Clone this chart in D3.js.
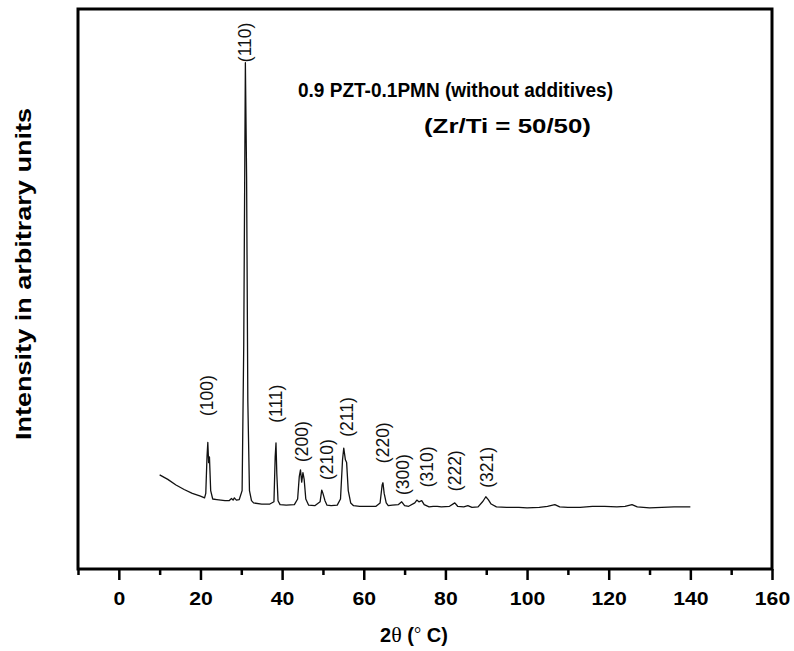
<!DOCTYPE html>
<html><head><meta charset="utf-8">
<script src="https://cdn.jsdelivr.net/npm/d3@7"></script>
<style>body{margin:0;background:#fff}</style>
</head><body>
<svg id="c" width="794" height="651"></svg>
<script>
// XRD pattern: [2θ (deg), intensity (a.u.)]
const twoTheta = [10,12,14,16,18,20,21,21.3,21.6,21.8,22.0,22.2,22.5,23,24,25,26,27,27.6,28,28.3,28.8,29.5,30.2,30.6,31.0,31.3,31.6,32,32.5,33,35,37,38,38.3,38.5,38.7,39.0,39.5,41,43,43.8,44.2,44.5,44.8,45.1,45.4,45.8,46.5,48,49.3,49.7,50.0,50.5,51,52,53.5,54.3,54.8,55.1,55.5,55.8,56.2,56.8,57.5,59,61,63,64.0,64.5,64.7,65.0,65.5,66,67,68.5,69.3,70,71,72.5,73.0,73.5,74.2,74.8,76,77,78,79,81,82.3,83,84.5,85.5,86.5,88,89.2,89.9,90.5,91.2,92.5,95,98,100,103,105,106.8,108,110,113,116,119,122,124,125.7,127,130,133,136,140];
const intensity = [168,160,150,142,135,130,127,135,200,226,190,200,140,125,124,123,122,122,126,123,127,123,124,140,400,904,700,300,140,122,118,116,116,120,200,225,170,122,115,114,115,125,165,177,155,172,160,125,114,113,120,141,135,122,114,113,114,125,195,216,195,190,140,118,113,112,112,112,118,150,154,135,118,113,114,115,120,113,112,118,123,120,122,115,111,112,112,111,112,118,112,111,113,110,111,121,129,124,116,111,110,110,109,110,112,115,111,110,110,112,112,111,112,115,111,109,110,111,111];

// Peak labels (Miller indices), the 2θ where they sit, and the intensity level of the label's lower end
const peakLabels = ["(100)","(110)","(111)","(200)","(210)","(211)","(220)","(300)","(310)","(222)","(321)"];
const peakAngles = [21.5,30.8,38.4,44.8,50.9,55.8,64.6,69.5,75.4,82.3,90.1];
const labelBase  = [273,905,261,191,159,236,189,132,146,139,145];

const xTicks = [0,20,40,60,80,100,120,140,160];
const xMinorTicks = [-10,10,30,50,70,90,110,130,150];

const titleLines = ["0.9 PZT-0.1PMN (without additives)", "(Zr/Ti = 50/50)"];

const svg = d3.select("#c");
const L = 78, R = 772, T = 9, B = 569;
const FONT = "Liberation Sans, Arial, Helvetica, sans-serif";
const x = d3.scaleLinear().domain([-10,160]).range([L,R]);
const y = d3.scaleLinear().domain([0,1000]).range([B,T]);

const data = twoTheta.map((t,i)=>({t, v:intensity[i]}));

// curve
svg.append("path").datum(data)
  .attr("fill","none").attr("stroke","#111").attr("stroke-width",1.3)
  .attr("stroke-linejoin","round")
  .attr("d", d3.line().x(d=>x(d.t)).y(d=>y(d.v)));

// frame
svg.append("rect").attr("x",L).attr("y",T).attr("width",R-L).attr("height",B-T)
  .attr("fill","none").attr("stroke","#000").attr("stroke-width",3);

// x axis
const ax = svg.append("g").attr("transform",`translate(0,${B})`)
  .call(d3.axisBottom(x).tickValues(xTicks).tickSize(11).tickPadding(12).tickFormat(d3.format("d")));
ax.select(".domain").remove();
ax.selectAll("line").attr("stroke","#000").attr("stroke-width",2.5);
ax.selectAll("text").attr("font-family",FONT)
  .attr("font-weight","bold").attr("font-size",18).attr("fill","#000")
  .attr("textLength", d => 11.8*String(d).length).attr("lengthAdjust","spacingAndGlyphs");
const axm = svg.append("g").attr("transform",`translate(0,${B})`)
  .call(d3.axisBottom(x).tickValues(xMinorTicks).tickSize(6).tickFormat(""));
axm.select(".domain").remove();
axm.selectAll("line").attr("stroke","#000").attr("stroke-width",2.5);

// axis titles
const xt = svg.append("text").attr("x",414).attr("y",642).attr("text-anchor","middle")
  .attr("font-family",FONT).attr("font-weight","bold").attr("font-size",20);
xt.append("tspan").text("2");
xt.append("tspan").attr("font-family","Liberation Serif, Times New Roman, serif").attr("font-weight","normal").attr("font-size",22).text("θ");
xt.append("tspan").text(" (");
xt.append("tspan").attr("font-family","Liberation Serif, Times New Roman, serif").attr("font-weight","normal").attr("font-size",18).attr("dy",-2).text("°");
xt.append("tspan").attr("dy",2).text(" C)");

svg.append("text").attr("transform","translate(31,274) rotate(-90)").attr("text-anchor","middle")
  .attr("font-family",FONT).attr("font-weight","bold").attr("font-size",22)
  .attr("textLength",332).attr("lengthAdjust","spacingAndGlyphs")
  .text("Intensity in arbitrary units");

// title
svg.append("text").attr("x",298).attr("y",97)
  .attr("font-family",FONT).attr("font-weight","bold").attr("font-size",20)
  .attr("textLength",315).attr("lengthAdjust","spacingAndGlyphs")
  .text(titleLines[0]);
svg.append("text").attr("x",424).attr("y",133)
  .attr("font-family",FONT).attr("font-weight","bold").attr("font-size",20)
  .attr("textLength",167).attr("lengthAdjust","spacingAndGlyphs")
  .text(titleLines[1]);

// peak labels
peakLabels.forEach((lab,i)=>{
  svg.append("text")
    .attr("transform",`translate(${x(peakAngles[i])},${y(labelBase[i])}) rotate(-90)`)
    .attr("dy","0.35em")
    .attr("font-family",FONT).attr("font-size",17.5)
    .attr("fill","#111")
    .text(lab);
});
</script>
</body></html>
